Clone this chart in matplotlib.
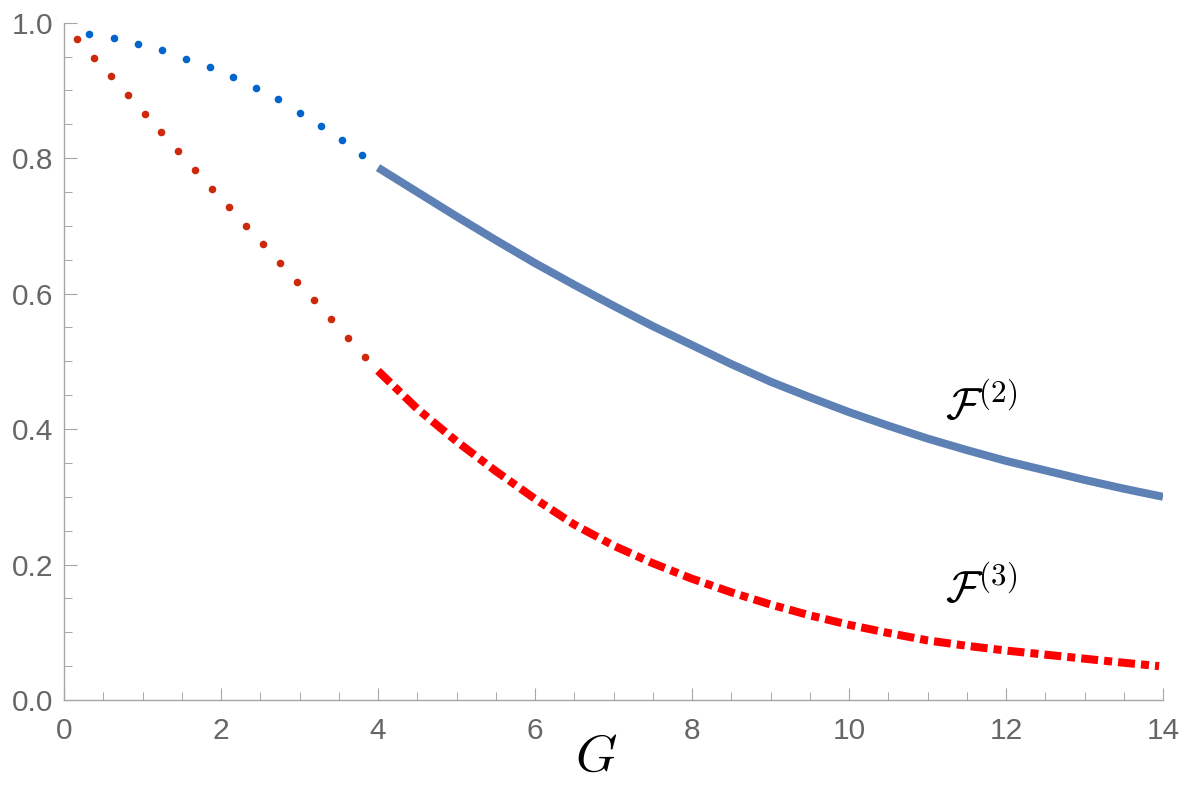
import matplotlib
matplotlib.use('Agg')
import matplotlib.pyplot as plt
from matplotlib.ticker import MultipleLocator, FixedLocator, FixedFormatter

plt.rcParams['mathtext.fontset'] = 'cm'
plt.rcParams['font.family'] = ['Liberation Sans', 'DejaVu Sans']

# ---- data ----
blue_dot_G = [0.314, 0.633, 0.943, 1.253, 1.558, 1.856, 2.157, 2.442, 2.73, 3.006, 3.274, 3.537, 3.80]
blue_dot_F = [0.983, 0.977, 0.969, 0.959, 0.947, 0.934, 0.920, 0.904, 0.887, 0.867, 0.848, 0.827, 0.804]

red_dot_G = [0.161, 0.382, 0.594, 0.811, 1.028, 1.24, 1.456, 1.673, 1.89, 2.106, 2.32, 2.54,
             2.755, 2.97, 3.185, 3.40, 3.618, 3.834]
red_dot_F = [0.976, 0.948, 0.921, 0.893, 0.865, 0.838, 0.810, 0.783, 0.755, 0.728, 0.700, 0.673,
             0.645, 0.617, 0.590, 0.562, 0.535, 0.507]

blue_line_G = [4.0, 4.5, 5.0, 5.5, 6.0, 6.5, 7.0, 7.5, 8.0, 8.5, 9.0, 9.5, 10.0, 10.5, 11.0,
               11.5, 12.0, 12.5, 13.0, 13.5, 14.0]
blue_line_F = [0.786, 0.750, 0.714, 0.679, 0.645, 0.613, 0.582, 0.552, 0.524, 0.496, 0.470, 0.447,
               0.425, 0.405, 0.386, 0.369, 0.353, 0.339, 0.325, 0.312, 0.300]

red_line_G = [4.0, 4.5, 5.0, 5.5, 6.0, 6.5, 7.0, 7.5, 8.0, 8.5, 9.0, 9.5, 10.0, 10.5, 11.0,
              11.5, 12.0, 12.5, 13.0, 13.5, 13.95]
red_line_F = [0.486, 0.430, 0.382, 0.338, 0.297, 0.259, 0.228, 0.202, 0.179, 0.159, 0.141, 0.125,
              0.111, 0.099, 0.088, 0.080, 0.073, 0.067, 0.061, 0.055, 0.050]

x_ticks = [0, 2, 4, 6, 8, 10, 12, 14]
x_tick_labels = ['0', '2', '4', '6', '8', '10', '12', '14']
y_ticks = [0.0, 0.2, 0.4, 0.6, 0.8, 1.0]
y_tick_labels = ['0.0', '0.2', '0.4', '0.6', '0.8', '1.0']

W, H = 1184, 798
fig = plt.figure(figsize=(W / 100, H / 100), dpi=100)
x0, x1 = 64, 1163
y0, y1 = 700, 22.7
ax = fig.add_axes([x0 / W, 1 - y0 / H, (x1 - x0) / W, (y0 - y1) / H])

ax.plot(blue_line_G, blue_line_F, color='#5E81B5', lw=5.8, solid_capstyle='butt',
        solid_joinstyle='round', zorder=3)
ax.plot(red_line_G, red_line_F, color='#ff0000', lw=5.8, dashes=(2.1, 0.75, 1.0, 0.75),
        dash_capstyle='butt', dash_joinstyle='round', zorder=3)
ax.scatter(blue_dot_G, blue_dot_F, s=30, color='#0066cc', linewidths=0, zorder=4, clip_on=False)
ax.scatter(red_dot_G, red_dot_F, s=30, color='#cc2a0a', linewidths=0, zorder=4, clip_on=False)

ax.set_xlim(0, 14)
ax.set_ylim(0, 1)

axis_col = '#a6a6a6'
for s in ['top', 'right']:
    ax.spines[s].set_visible(False)
for s in ['left', 'bottom']:
    ax.spines[s].set_color(axis_col)
    ax.spines[s].set_linewidth(1.0)

ax.xaxis.set_major_locator(FixedLocator(x_ticks))
ax.xaxis.set_major_formatter(FixedFormatter(x_tick_labels))
ax.yaxis.set_major_locator(FixedLocator(y_ticks))
ax.yaxis.set_major_formatter(FixedFormatter(y_tick_labels))
ax.xaxis.set_minor_locator(MultipleLocator(0.5))
ax.yaxis.set_minor_locator(MultipleLocator(0.05))

ax.tick_params(which='major', direction='in', length=9, width=0.8, color=axis_col,
               labelsize=21.5, labelcolor='#666666')
ax.tick_params(which='minor', direction='in', length=5.5, width=0.7, color=axis_col)
ax.tick_params(axis='x', which='major', pad=12)
ax.tick_params(axis='y', which='major', pad=8)

fig.text(596 / W, 1 - 757 / H, r'$G$', fontsize=38, ha='center', va='center')
ax.text(11.22, 0.434, r'$\mathcal{F}^{(2)}$', fontsize=32, ha='left', va='center')
ax.text(11.22, 0.164, r'$\mathcal{F}^{(3)}$', fontsize=32, ha='left', va='center')

fig.savefig('out.png', dpi=100)
